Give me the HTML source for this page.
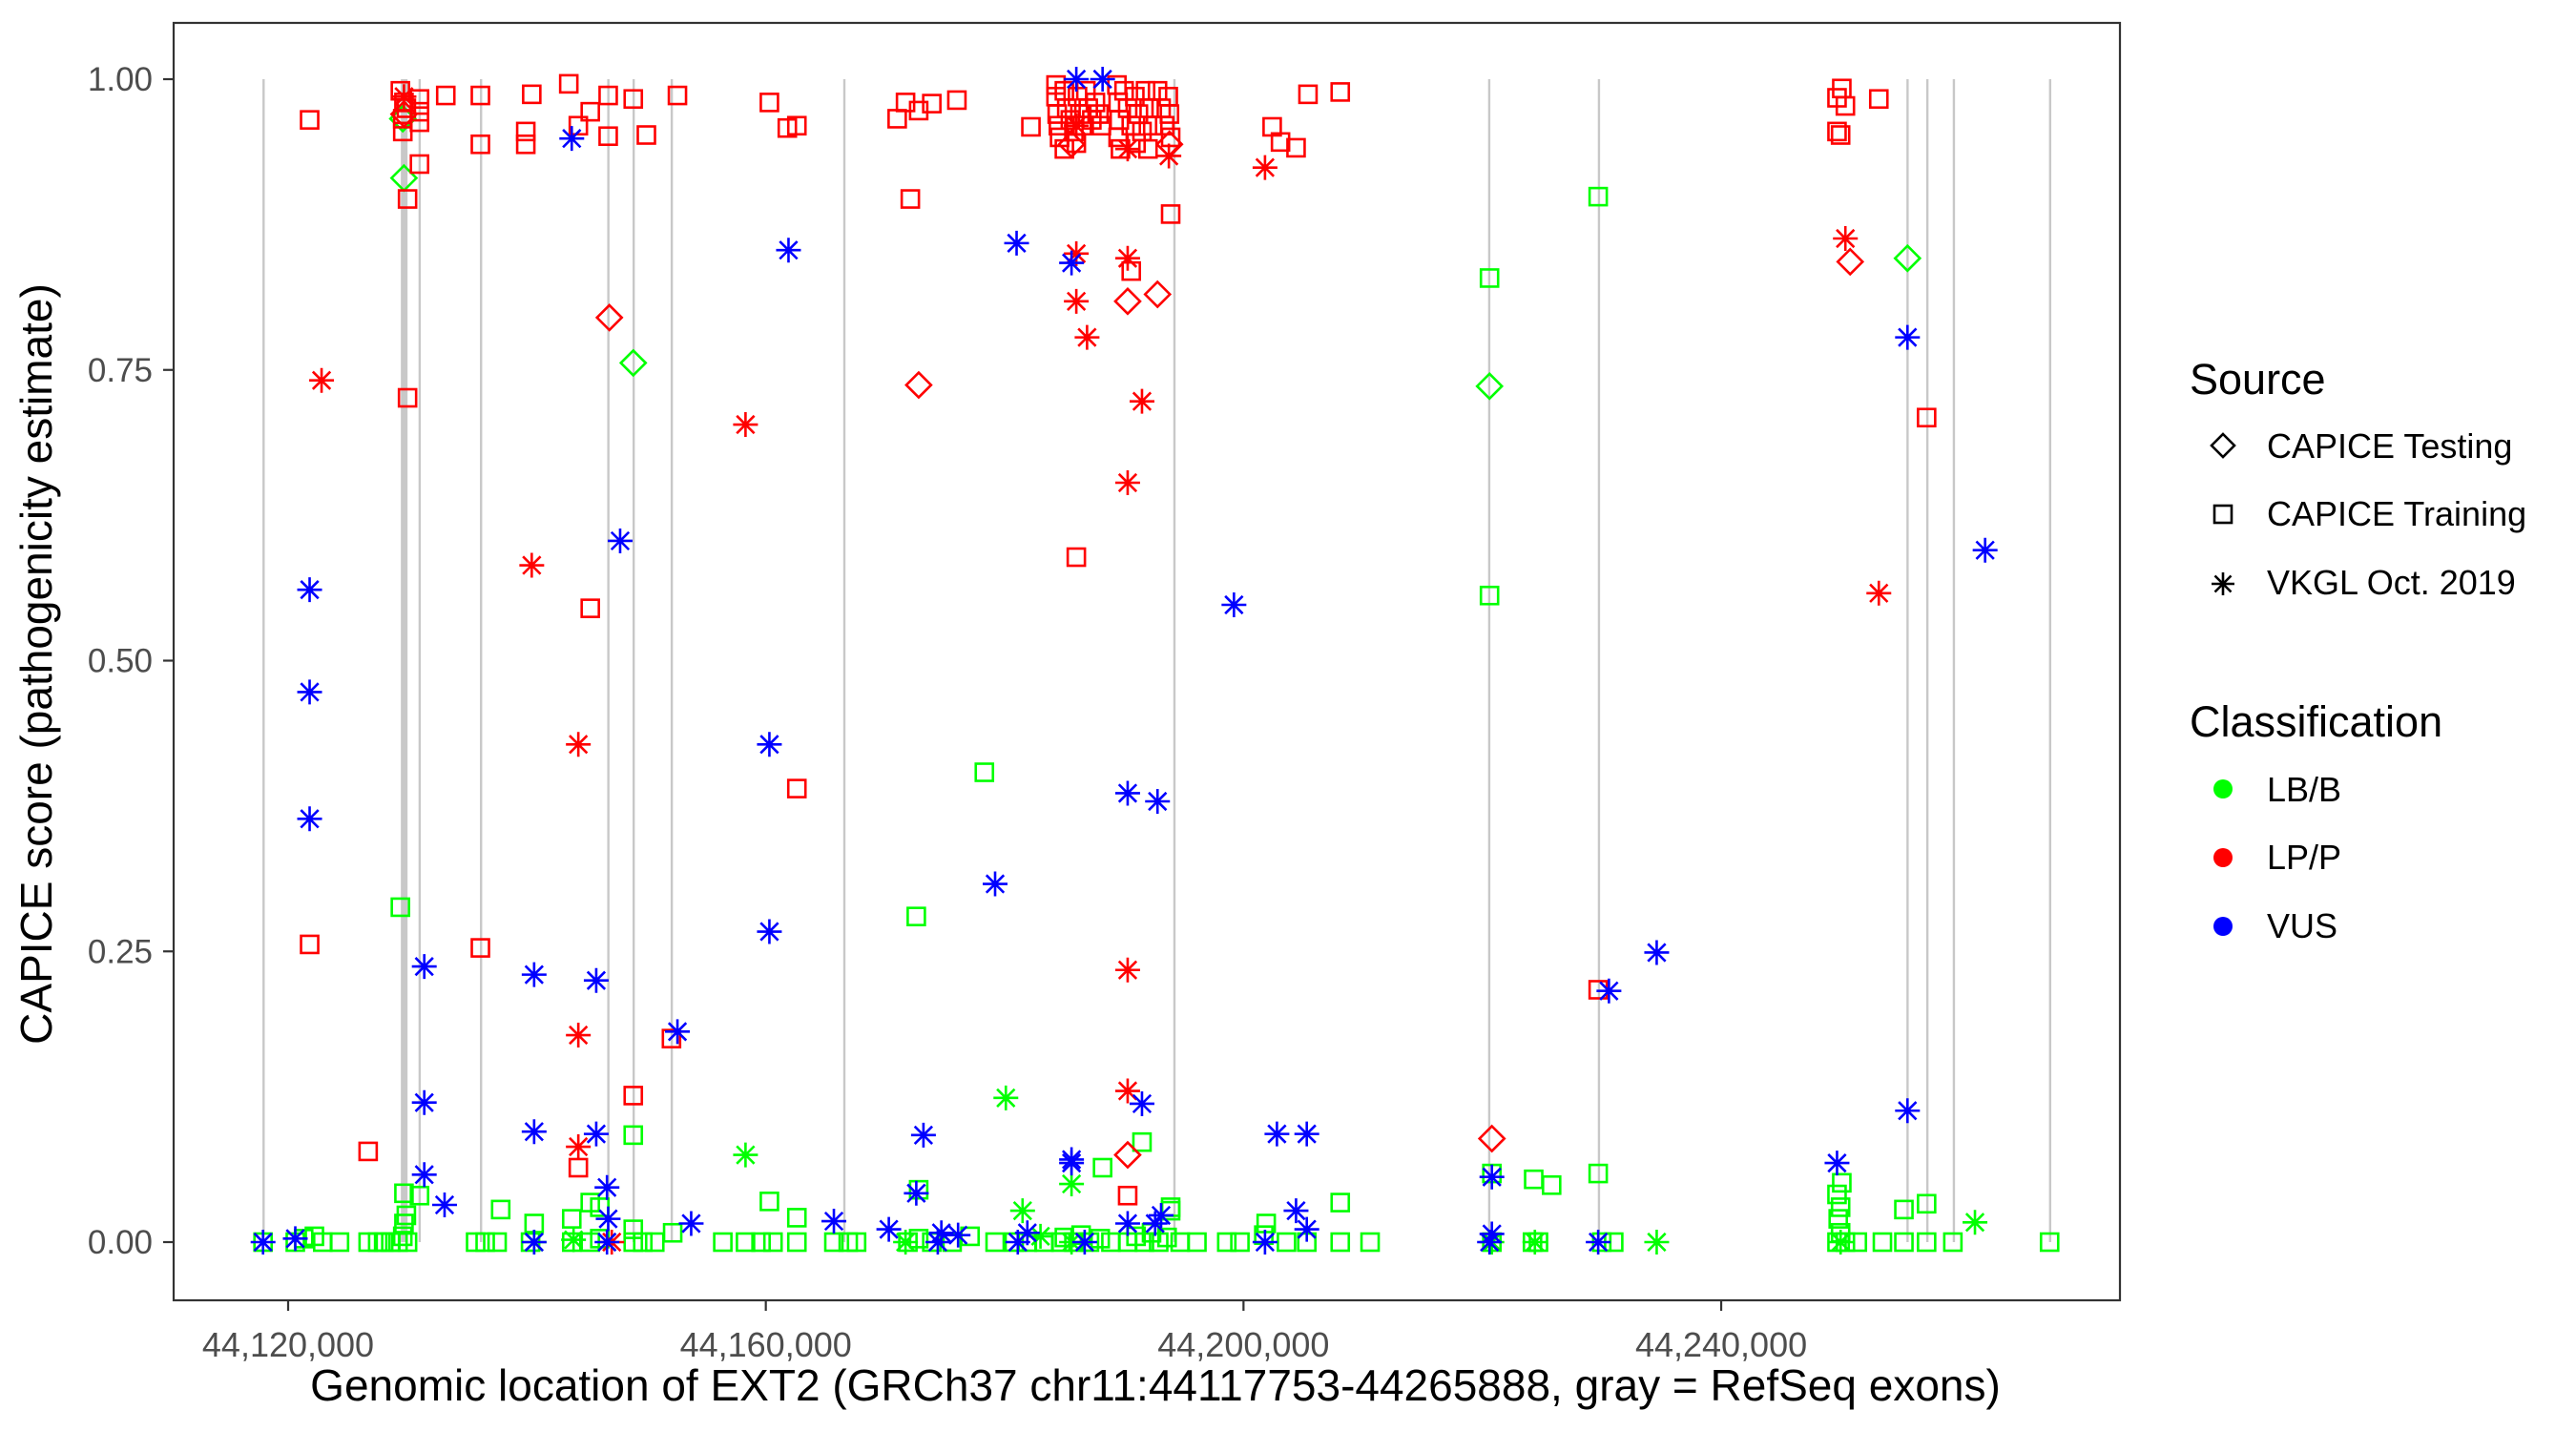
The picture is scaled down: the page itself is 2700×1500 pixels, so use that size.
<!DOCTYPE html>
<html><head><meta charset="utf-8"><style>
html,body{margin:0;padding:0;background:#fff;}
svg{display:block;font-family:"Liberation Sans",sans-serif;}
</style></head><body>
<svg id="chart" width="2700" height="1500" viewBox="0 0 2700 1500" xmlns="http://www.w3.org/2000/svg">
<rect width="2700" height="1500" fill="#fff"/>
<g id="exons"></g>
<g id="points"></g>
<rect x="182" y="24" width="2040" height="1339" fill="none" stroke="#333" stroke-width="2.2"/>
<g id="yaxis"></g>
<g id="xaxis"></g>
<text x="1211" y="1468" font-size="46" text-anchor="middle" fill="#000">Genomic location of EXT2 (GRCh37 chr11:44117753-44265888, gray = RefSeq exons)</text>
<text transform="translate(54,696) rotate(-90)" font-size="46" text-anchor="middle" fill="#000">CAPICE score (pathogenicity estimate)</text>
<g>
<text x="2295" y="413" font-size="45">Source</text>
<g><path d="M2330 455 L2342 467 L2330 479 L2318 467 Z" fill="none" stroke="#000" stroke-width="2.6"/><text x="2376" y="480" font-size="36">CAPICE Testing</text></g>
<g><rect x="2321" y="530" width="18" height="18" fill="none" stroke="#000" stroke-width="2.6"/><text x="2376" y="551" font-size="36">CAPICE Training</text></g>
<g><path d="M2318 612 H2342 M2330 600 V624 M2321.5 603.5 L2338.5 620.5 M2338.5 603.5 L2321.5 620.5" stroke="#000" stroke-width="2.6"/><text x="2376" y="623" font-size="36">VKGL Oct. 2019</text></g>
<text x="2295" y="772" font-size="45">Classification</text>
<g><circle cx="2330" cy="827" r="10" fill="#00FF00"/><text x="2376" y="840" font-size="36">LB/B</text></g>
<g><circle cx="2330" cy="899" r="10" fill="#FF0000"/><text x="2376" y="911" font-size="36">LP/P</text></g>
<g><circle cx="2330" cy="971" r="10" fill="#0000FF"/><text x="2376" y="983" font-size="36">VUS</text></g>
</g>
</svg>
<script>
// positions in kb offset from 44,000,000; scores 0..1
const POS_OFFSET = 44000000;
const xTicks = [44120000, 44160000, 44200000, 44240000];
const xTickLabels = ["44,120,000", "44,160,000", "44,200,000", "44,240,000"];
const yTicks = [0, 0.25, 0.5, 0.75, 1];
const yTickLabels = ["0.00", "0.25", "0.50", "0.75", "1.00"];
const exons = [[117.85,117.95],[129.44,130.0],[130.92,131.02],[136.06,136.16],[146.72,146.9],[148.84,148.94],[152.03,152.13],[166.48,166.58],[194.12,194.22],[220.48,220.64],[229.67,229.77],[255.51,255.61],[257.17,257.27],[259.39,259.49],[267.45,267.55]];

const lbTraining = [[129.4,.288],[129.7,.042],[129.7,.016],[129.9,.023],[131.0,.04],[137.8,.028],[140.6,.016],[143.75,.02],[145.3,.034],[146.1,.03],[148.9,.092],[148.9,.011],[160.3,.035],[162.6,.021],[172.6,.28],[172.8,.045],[178.3,.404],[188.2,.064],[191.5,.086],[193.9,.027],[193.9,.03],[201.9,.016],[208.1,.034],[220.6,.829],[220.6,.556],[220.8,.059],[224.3,.054],[225.8,.049],[229.7,.899],[229.7,.059],[250.1,.051],[249.7,.041],[250.0,.03],[249.8,.02],[255.3,.028],[257.2,.033],
[117.9,0],[120.6,0],[121.3,.003],[122.2,.005],[122.9,0],[124.3,0],[126.7,0],[127.5,0],[128.0,0],[128.6,0],[129.2,0],[129.6,.005],[130.0,0],[135.7,0],[136.5,0],[137.5,0],[140.3,0],[143.75,0],[145.3,0],[146.1,.003],[148.9,0],[149.7,0],[150.7,0],[152.2,.008],[156.4,0],[158.3,0],[159.6,0],[160.6,0],[162.6,0],[165.7,0],[166.9,0],[167.6,0],[171.9,0],[172.8,.003],[173.9,0],[175.6,0],[177.1,.005],[179.2,0],[180.8,0],[181.9,0],[183.3,0],[184.7,0],[185.0,.004],[185.8,0],[186.4,.006],[187.1,0],[188.0,.003],[188.9,0],[190.3,0],[191.0,.005],[191.7,0],[192.3,.008],[192.9,0],[193.6,.004],[194.7,0],[196.1,0],[198.6,0],[199.7,0],[201.7,.006],[203.6,0],[205.3,0],[208.1,0],[210.6,0],[220.8,0],[224.2,0],[224.7,0],[230.0,0],[231.0,0],[249.7,0],[250.0,.008],[250.4,0],[251.4,0],[253.5,0],[255.3,0],[257.2,0],[259.4,0],[267.5,0]];
const lbTesting = [[129.6,.966],[129.7,.915],[148.9,.756],[220.6,.736],[255.6,.846]];
const lbVkgl = [[158.3,.075],[180.1,.124],[185.6,.05],[181.5,.027],[261.25,.017],[234.6,0],[220.8,0],[224.4,0],[185.6,0],[171.7,0],[183.0,.005],[250.0,0],[140.6,0],[143.9,.002]];

const lpTraining = [[121.8,.965],[129.4,.99],[129.7,.98],[129.6,.966],[129.6,.955],[129.9,.975],[131.0,.983],[131.0,.972],[131.0,.963],[133.2,.986],[136.1,.986],[136.1,.944],[139.9,.955],[139.9,.944],[140.4,.987],[143.5,.996],[144.3,.96],[145.3,.972],[146.8,.986],[146.8,.951],[148.9,.983],[150.0,.952],[152.6,.986],[160.3,.98],[161.8,.958],[162.6,.96],[171.0,.966],[171.7,.98],[172.8,.973],[173.9,.979],[176.0,.982],[172.1,.897],[182.2,.959],[193.9,.884],[202.4,.959],[203.1,.946],[204.4,.941],[205.4,.987],[208.1,.989],[249.7,.984],[250.1,.992],[250.4,.977],[249.7,.955],[250.0,.952],[253.2,.983],[130.0,.897],[131.0,.927],[130.0,.726],[145.3,.545],[162.6,.39],[186.0,.589],[190.6,.835],[148.9,.126],[152.1,.175],[144.3,.064],[126.7,.078],[121.8,.256],[136.1,.253],[229.7,.217],[257.2,.709],[190.3,.04],
[184.3,.995],[184.3,.985],[184.4,.97],[184.5,.96],[184.6,.95],[185.0,.99],[185.2,.975],[185.5,.965],[185.8,.955],[186.1,.985],[186.3,.97],[186.5,.96],[186.8,.99],[187.0,.975],[187.3,.965],[187.6,.98],[187.9,.97],[188.1,.96],[185.0,.94],[186.0,.945],
[189.4,.995],[189.5,.98],[189.6,.965],[189.5,.95],[189.7,.94],[190.0,.99],[190.3,.975],[190.6,.96],[190.9,.985],[191.2,.97],[191.5,.955],[191.8,.99],[192.1,.975],[192.4,.96],[192.8,.99],[193.1,.975],[193.4,.96],[193.7,.985],[193.8,.97],[193.9,.95],[191.0,.945],[192.0,.94]];
const lpTesting = [[185.6,.944],[146.9,.795],[172.8,.737],[190.3,.809],[192.8,.815],[193.8,.944],[250.8,.843],[220.8,.089],[190.3,.075],[129.7,.97]];
const lpVkgl = [[122.8,.741],[140.4,.582],[158.3,.703],[144.3,.428],[144.3,.178],[144.3,.082],[147.1,0],[186.0,.85],[186.0,.809],[186.9,.778],[190.3,.846],[191.5,.723],[190.3,.653],[190.3,.234],[190.3,.13],[193.75,.934],[201.8,.924],[250.4,.863],[253.2,.558],[129.7,.985],[190.3,.94],[186.0,.96]];

const vusVkgl = [[117.9,0],[120.6,.003],[121.8,.561],[121.8,.473],[121.8,.364],[131.4,.237],[131.4,.12],[131.4,.058],[133.1,.032],[140.6,.23],[140.6,.095],[140.6,0],[143.75,.949],[145.8,.225],[145.8,.093],[146.7,.047],[146.8,.02],[147.8,.603],[146.7,0],[152.6,.181],[153.75,.016],[160.3,.428],[160.3,.267],[161.9,.853],[165.7,.018],[170.3,.011],[172.6,.042],[173.2,.092],[174.4,0],[174.7,.008],[176.1,.006],[179.2,.308],[181.0,.859],[181.1,0],[181.9,.008],[185.6,.071],[185.6,.842],[185.6,.068],[186.7,0],[186.0,1.0],[188.2,1.0],[190.3,.386],[190.3,.016],[191.5,.119],[192.8,.379],[192.6,.016],[193.1,.023],[199.2,.548],[201.8,0],[202.8,.093],[204.4,.027],[205.3,.093],[205.3,.011],[220.8,.056],[220.8,.007],[220.6,0],[229.7,0],[230.6,.216],[234.6,.249],[249.7,.068],[255.6,.778],[255.6,.113],[262.1,.595]];

const NS = "http://www.w3.org/2000/svg";
function xScale(bp){ return 302 + (bp - 44120000) * 0.012517; }
function xk(kb){ return xScale(POS_OFFSET + kb*1000); }
function yScale(s){ return 1302 - s * 1219; }
function mk(tag, attrs, parent){ const e=document.createElementNS(NS,tag); for(const k in attrs) e.setAttribute(k,attrs[k]); parent.appendChild(e); return e; }

const exG = document.getElementById('exons');
exons.forEach(function(ex){
  const x0 = xk(ex[0]), x1 = xk(ex[1]);
  const r = mk('rect',{x:x0,y:yScale(1),width:Math.max(2.4,x1-x0),height:yScale(0)-yScale(1),fill:'#C8C8C8'},exG);
  
  
});

const ptG = document.getElementById('points');
function drawSquare(d,col){ const x=xk(d[0]),y=yScale(d[1]);
  const e=mk('rect',{x:x-9,y:y-9,width:18,height:18,fill:'none',stroke:col,'stroke-width':2.6},ptG);
  
   }
function drawDiamond(d,col){ const x=xk(d[0]),y=yScale(d[1]);
  const e=mk('path',{d:'M'+x+' '+(y-13)+' L'+(x+13)+' '+y+' L'+x+' '+(y+13)+' L'+(x-13)+' '+y+' Z',fill:'none',stroke:col,'stroke-width':2.6},ptG);
  
   }
function drawStar(d,col){ const x=xk(d[0]),y=yScale(d[1]); const r=13, q=9.2;
  const e=mk('path',{d:'M'+(x-r)+' '+y+' H'+(x+r)+' M'+x+' '+(y-r)+' V'+(y+r)+' M'+(x-q)+' '+(y-q)+' L'+(x+q)+' '+(y+q)+' M'+(x+q)+' '+(y-q)+' L'+(x-q)+' '+(y+q),stroke:col,'stroke-width':2.6,fill:'none'},ptG);
  
   }
const G='#00FF00', R='#FF0000', B='#0000FF';
lbTraining.forEach(d=>drawSquare(d,G));
lbTesting.forEach(d=>drawDiamond(d,G));
lbVkgl.forEach(d=>drawStar(d,G));
lpTraining.forEach(d=>drawSquare(d,R));
lpTesting.forEach(d=>drawDiamond(d,R));
lpVkgl.forEach(d=>drawStar(d,R));
vusVkgl.forEach(d=>drawStar(d,B));

const yG = document.getElementById('yaxis');
yTicks.forEach(function(t,i){ const y=yScale(t);
  const l=mk('line',{x1:171,x2:182,y1:y,y2:y,stroke:'#333','stroke-width':2.2},yG);
  
  
  const tx=mk('text',{x:160,y:y+12,'font-size':35,'text-anchor':'end',fill:'#4D4D4D'},yG); tx.textContent=yTickLabels[i];
  
  
});
const xG = document.getElementById('xaxis');
xTicks.forEach(function(t,i){ const x=xScale(t);
  const l=mk('line',{x1:x,x2:x,y1:1363,y2:1374,stroke:'#333','stroke-width':2.2},xG);
  
  
  const tx=mk('text',{x:x,y:1422,'font-size':36,'text-anchor':'middle',fill:'#4D4D4D'},xG); tx.textContent=xTickLabels[i];
  
  
});
</script>
</body></html>
